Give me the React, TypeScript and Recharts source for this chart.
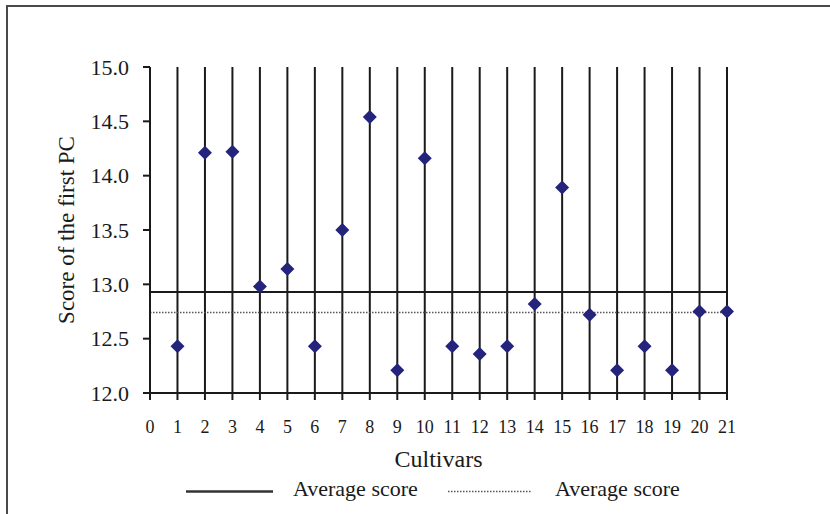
import React from 'react';
import { ComposedChart, Scatter, XAxis, YAxis, CartesianGrid, ReferenceLine, Label } from 'recharts';

const cultivars = [1, 2, 3, 4, 5, 6, 7, 8, 9, 10, 11, 12, 13, 14, 15, 16, 17, 18, 19, 20, 21];
const scores = [12.43, 14.21, 14.22, 12.98, 13.14, 12.43, 13.5, 14.54, 12.21, 14.16, 12.43, 12.36, 12.43, 12.82, 13.89, 12.72, 12.21, 12.43, 12.21, 12.75, 12.75];
const xTicks = [0, 1, 2, 3, 4, 5, 6, 7, 8, 9, 10, 11, 12, 13, 14, 15, 16, 17, 18, 19, 20, 21];
const yTicks = [12.0, 12.5, 13.0, 13.5, 14.0, 14.5, 15.0];
const averageSolid = 12.93;
const averageDotted = 12.74;

const data = cultivars.map((c, i) => ({ cultivar: c, score: scores[i] }));

const FONT = '"Liberation Serif", "Times New Roman", serif';
const INK = '#1a1a1a';

const Diamond = (props: any) => {
  const { cx, cy } = props;
  if (cx == null || cy == null) return null;
  return <path d={`M${cx},${cy - 7} L${cx + 7},${cy} L${cx},${cy + 7} L${cx - 7},${cy} Z`} fill="#24247c" />;
};

const YLabel = (props: any) => {
  const vb = props.viewBox || { x: 0, y: 0, height: 0 };
  const x = vb.x - 24;
  const y = vb.y + vb.height / 2;
  return (
    <text x={x} y={y} transform={`rotate(-90, ${x}, ${y})`} textAnchor="middle" dominantBaseline="central"
      fontFamily={FONT} fontSize={23} fill={INK}>
      Score of the first PC
    </text>
  );
};

// legend drawn under the plot, same as the original figure
const ChartLegend = () => (
  <svg width={830} height={40} style={{ position: 'absolute', left: 0, top: 472 }}>
    <line x1={186} x2={273} y1={19.5} y2={19.5} stroke="#333" strokeWidth={2.5} />
    <text x={293} y={24} fontFamily={FONT} fontSize={22} fill={INK}>Average score</text>
    <line x1={448} x2={532} y1={19.5} y2={19.5} stroke="#555" strokeWidth={1.5} strokeDasharray="1.5 1.5" />
    <text x={555} y={24} fontFamily={FONT} fontSize={22} fill={INK}>Average score</text>
  </svg>
);

export default function App() {
  return (
    <div style={{ position: 'absolute', left: 0, top: 0, width: 830, height: 514, background: '#fff', overflow: 'hidden' }}>
      <div style={{ position: 'absolute', left: 6, top: 5, width: 824, height: 509, borderTop: '2px solid #4a4a4a', borderLeft: '2px solid #4a4a4a', boxSizing: 'border-box' }} />
      <ComposedChart width={830} height={514} data={data} margin={{ top: 67, right: 103, left: 90, bottom: 41 }}>
        <CartesianGrid horizontal={false} stroke={INK} strokeWidth={2} />
        <XAxis
          type="number"
          dataKey="cultivar"
          domain={[0, 21]}
          ticks={xTicks}
          interval={0}
          height={80}
          axisLine={{ stroke: INK, strokeWidth: 2 }}
          tickLine={{ stroke: INK, strokeWidth: 2 }}
          tickSize={7}
          tickMargin={20}
          tick={{ fontFamily: FONT, fontSize: 18, fill: INK }}
        >
          <Label value="Cultivars" position="insideBottom" offset={6} style={{ fontFamily: FONT, fontSize: 24, fill: INK }} />
        </XAxis>
        <YAxis
          type="number"
          domain={[12, 15]}
          ticks={yTicks}
          interval={0}
          width={60}
          tickFormatter={(v: number) => v.toFixed(1)}
          axisLine={{ stroke: INK, strokeWidth: 2 }}
          tickLine={{ stroke: INK, strokeWidth: 2 }}
          tickSize={7}
          tickMargin={14}
          tick={{ fontFamily: FONT, fontSize: 22, fill: INK }}
        >
          <Label content={<YLabel />} />
        </YAxis>
        <ReferenceLine y={averageSolid} stroke={INK} strokeWidth={2} />
        <ReferenceLine y={averageDotted} stroke="#555" strokeWidth={1.5} strokeDasharray="1.5 1.5" />
        <Scatter dataKey="score" shape={<Diamond />} isAnimationActive={false} />
      </ComposedChart>
      <ChartLegend />
    </div>
  );
}
